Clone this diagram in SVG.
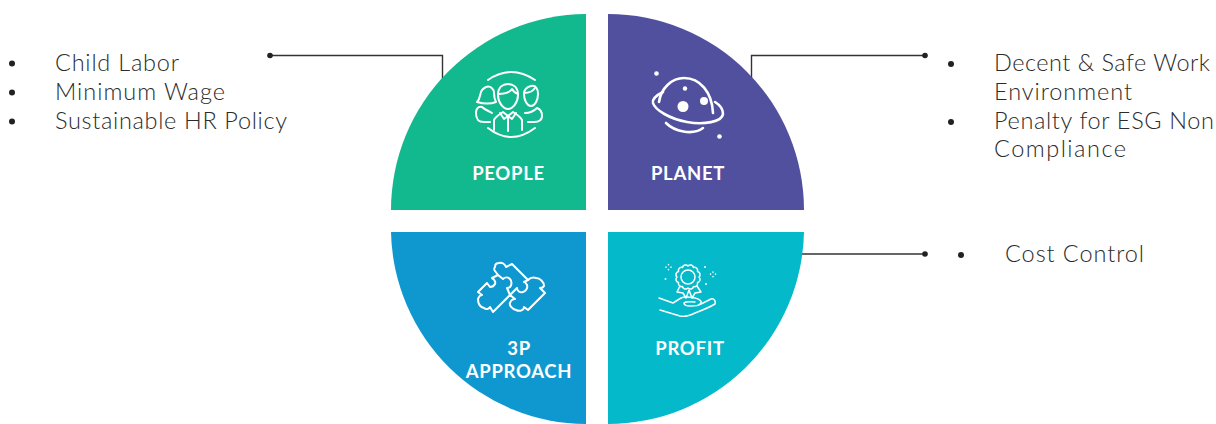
<svg xmlns="http://www.w3.org/2000/svg" width="1216" height="424" viewBox="0 0 1216 424">
<style>
.t{font-family:"Lato","Liberation Sans",sans-serif;font-weight:300;font-size:23.500px;fill:#2b2b2b}
.l{font-family:"Lato","Liberation Sans",sans-serif;font-weight:700;font-size:18.500px;letter-spacing:.7px;fill:#fff;text-anchor:middle}
.i{fill:none;stroke:#fff;stroke-width:2;stroke-linecap:round;stroke-linejoin:round}
.p{stroke-width:2.600}
.h{stroke-width:1.500}
.f{fill:#fff}
.c{fill:none;stroke:#333;stroke-width:1.400}
.d{fill:#222}
</style>
<rect width="1216" height="424" fill="#fff"/>
<g id="connectors">
<path class="c" d="M270 55.500H442.500V80"/><circle class="d" cx="270" cy="55.500" r="2.800"/>
<path class="c" d="M925 55.500H751.500V80"/><circle class="d" cx="925" cy="55.500" r="2.800"/>
<path class="c" d="M800 254H925"/><circle class="d" cx="925" cy="254" r="2.800"/>
</g>
<g id="people">
<path d="M586 14V210H391A196 196 0 0 1 586 14Z" fill="#12b88e"/>
<g class="i">
<path d="M488 80Q511 64 535 80"/><path d="M488 128Q511 146 535 128"/>
<path d="M498 95C498 87 503 84 508 84C513 84 518 87 518 95C518 102 513 109 508 109C503 109 498 102 498 95Z"/>
<path d="M498 94C505 94 510 92 512 89C513 91 515 93 518 94"/>
<path d="M494 130V120C496 116 500 114 503 112L508 116L513 112C516 114 520 116 522 120V130"/>
<path d="M508 116V131"/><path d="M500 113L504 119L508 116L512 119L516 113"/>
<path d="M486 87C490 85 494 89 494 93C494 97 495 100 496 102C491 104 484 104 477 102C480 99 480 95 481 92C482 89 484 88 486 87Z"/>
<path d="M482 107C478 106 476 109 476 113C476 118 477 122 484 122H490M482 107C485 110 489 111 492 113"/>
<path d="M531 86C536 85 538 89 538 94C538 100 535 106 531 106C527 106 524 100 524 94C524 90 527 87 531 86Z"/>
<path d="M524 93C530 93 533 91 535 88"/>
<path d="M525 113C529 113 534 111 537 108C540 109 542 112 542 116C542 120 539 122 534 122H528"/>
</g>
<text class="l" x="508.500" y="179.500">PEOPLE</text>
</g>
<g id="planet">
<path d="M608 14V210H804A196 196 0 0 0 608 14Z" fill="#51509f"/>
<g class="i p">
<path d="M659 102C661 88 672 78 684 78C700 78 712 92 713 113"/>
<path d="M663 92C657 95 652 99 653 103C655 110 670 119 687 122C704 125 722 122 723 114C723 110 720 105 715 102"/>
<path d="M666 123C674 131 692 136 703 128"/>
</g>
<circle class="f" cx="683" cy="106.500" r="5.500"/><circle class="f" cx="704" cy="101" r="4"/><circle class="f" cx="685" cy="88.500" r="2.200"/>
<circle class="f" cx="656.500" cy="73.500" r="2.300"/><circle class="f" cx="719.500" cy="136.500" r="2.300"/>
<text class="l" x="688" y="179.500">PLANET</text>
</g>
<g id="approach">
<path d="M586 232V424A196 196 0 0 1 391 232Z" fill="#0f98cf"/>
<g class="i">
<path d="M495 267C495 264 497 263 499 263C502 262 505 264 506 267L512 264L528 280C530 278 533 277 536 278C540 278 544 282 544 286C543 288 542 288 540 288L545 293L528 310L524 307C524 310 520 312 516 310C512 309 509 305 510 303C511 300 513 299 515 299L510 295L493 312L490 307C489 309 486 310 484 308C480 307 478 303 478 299C479 296 480 295 482 295L478 292L487 283L490 287C492 287 494 286 495 284C496 282 494 279 492 278L498 275L495 271C494 270 494 268 495 267Z"/>
<path d="M498 275L503 279C505 277 508 277 510 279C512 281 512 285 510 287C509 288 508 288 507 288L510 295L517 288C517 291 520 293 523 292C526 291 528 288 527 285C526 283 525 282 524 282L528 280"/>
</g>
<text class="l" x="519" y="354.500">3P</text>
<text class="l" x="519" y="377.500">APPROACH</text>
</g>
<g id="profit">
<path d="M608 232V424A196 196 0 0 0 804 232Z" fill="#03b9ca"/>
<g class="i h">
<path d="M699 277A3.200 3.200 0 0 1 697.500 282.500A3.200 3.200 0 0 1 693.500 286.500A3.200 3.200 0 0 1 688 288A3.200 3.200 0 0 1 682.500 286.500A3.200 3.200 0 0 1 678.500 282.500A3.200 3.200 0 0 1 677 277A3.200 3.200 0 0 1 678.500 271.500A3.200 3.200 0 0 1 682.500 267.500A3.200 3.200 0 0 1 688 266A3.200 3.200 0 0 1 693.500 267.500A3.200 3.200 0 0 1 697.500 271.500A3.200 3.200 0 0 1 699 277Z"/>
<circle cx="688" cy="277" r="7"/>
<path d="M680 286L677 292L683 293L686 298L689 290L692 298L695 293L701 292L697 286"/>
<path d="M659 298L673 303L681 298C685 296 690 297 695 298C699 299 702 301 701 303C699 306 696 306 690 306C686 306 684 305 684 303C686 301 690 302 695 302M701 304L711 299C714 298 716 301 715 304C710 307 703 310 695 313C689 316 684 317 680 316L660 310"/>
<path d="M666 267V267.200M668.500 264.500V264.700M668.500 269.500V269.700M671 267V267.200M713 272V272.200M713 276.500V276.700M710.500 274V274.200M715.500 274V274.200"/>
</g>
<circle class="f" cx="665.500" cy="279" r="1"/><circle class="f" cx="705" cy="267" r="1"/><circle class="f" cx="706" cy="284" r="1"/>
<text class="l" x="690" y="354.500">PROFIT</text>
</g>
<g id="list-people">
<circle class="d" cx="12" cy="63.500" r="3"/><text class="t" x="55" y="71" textLength="124">Child Labor</text>
<circle class="d" cx="12" cy="92.500" r="3"/><text class="t" x="55" y="100" textLength="170">Minimum Wage</text>
<circle class="d" cx="12" cy="121.500" r="3"/><text class="t" x="55" y="129" textLength="232">Sustainable HR Policy</text>
</g>
<g id="list-planet">
<circle class="d" cx="951" cy="64" r="3"/><text class="t" x="994" y="71" textLength="216">Decent &amp; Safe Work</text>
<text class="t" x="994" y="100" textLength="138">Environment</text>
<circle class="d" cx="951" cy="122" r="3"/><text class="t" x="994" y="129" textLength="220">Penalty for ESG Non</text>
<text class="t" x="994" y="157" textLength="132">Compliance</text>
</g>
<g id="list-profit">
<circle class="d" cx="961" cy="255" r="3"/><text class="t" x="1005" y="262" textLength="139">Cost Control</text>
</g>
</svg>
